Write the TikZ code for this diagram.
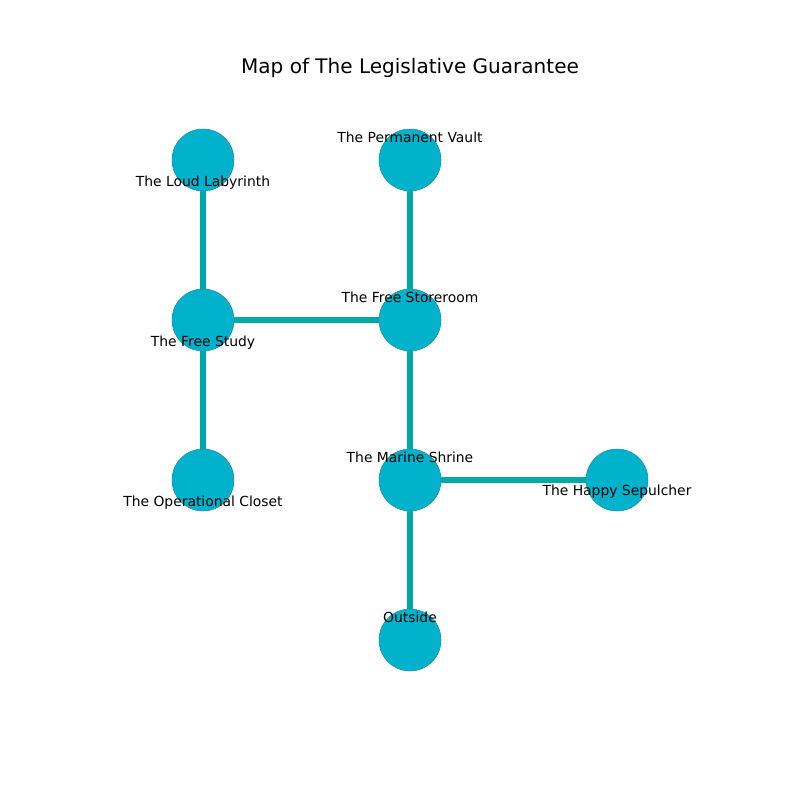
\documentclass[tikz,border=0pt]{standalone}
\usepackage{fontspec}
\setmainfont{DejaVu Sans}
\definecolor{roomfill}{HTML}{00B2CC}
\definecolor{roomline}{HTML}{1E8C9C}
\definecolor{corridor}{HTML}{00A9A9}
\tikzset{
    room/.style={circle, fill=roomfill, draw=roomline, line width=0.3pt, minimum size=1.24cm, inner sep=0pt},
    passage/.style={corridor, line width=3.3pt},
    roomname/.style={font=\fontsize{7.9}{9}\selectfont, inner sep=0pt}
}
\begin{document}
\begin{tikzpicture}[x=0.02cm, y=-0.02cm]
        \useasboundingbox (0,0) rectangle (800,800);

        % Title
        \node[font=\fontsize{11.4}{13}\selectfont] (title) at (410,68) {Map of The Legislative Guarantee};

        % Rooms
        \node[room] (labyrinth) at (203,160) {};
        \node[room] (vault) at (410,160) {};
        \node[room] (study) at (203,320) {};
        \node[room] (storeroom) at (410,320) {};
        \node[room] (closet) at (203,480) {};
        \node[room] (shrine) at (410,480) {};
        \node[room] (sepulcher) at (617,480) {};
        \node[room] (outside) at (410,640) {};

        % Passages (drawn underneath the rooms)
        \draw[passage] (labyrinth) -- (study);
        \draw[passage] (study) -- (closet);
        \draw[passage] (study) -- (storeroom);
        \draw[passage] (vault) -- (storeroom);
        \draw[passage] (storeroom) -- (shrine);
        \draw[passage] (shrine) -- (sepulcher);
        \draw[passage] (shrine) -- (outside);

        % Room names
        \node[roomname] (labyrinthname) at (203,183) {The Loud Labyrinth};
        \node[roomname] (vaultname) at (410,137) {The Permanent Vault};
        \node[roomname] (studyname) at (203,343) {The Free Study};
        \node[roomname] (storeroomname) at (410,297) {The Free Storeroom};
        \node[roomname] (closetname) at (203,503) {The Operational Closet};
        \node[roomname] (shrinename) at (410,457) {The Marine Shrine};
        \node[roomname] (sepulchername) at (617,492) {The Happy Sepulcher};
        \node[roomname] (outsidename) at (410,617) {Outside};
    \end{tikzpicture}
\end{document}
